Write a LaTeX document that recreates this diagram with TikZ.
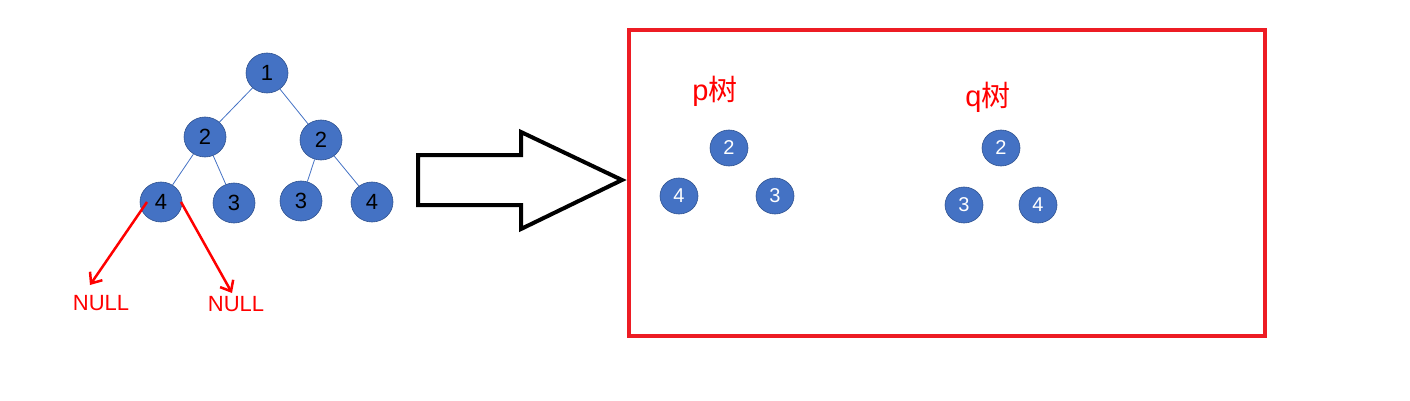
\documentclass[tikz,border=0pt]{standalone}
\usepackage{fontspec}
\setmainfont{Liberation Sans}
\newfontfamily\cjk{Noto Sans CJK SC}
\usetikzlibrary{arrows.meta,shapes.geometric}
\definecolor{nodeblue}{RGB}{68,114,196}
\definecolor{nodeedge}{RGB}{47,82,143}
\definecolor{boxred}{RGB}{237,28,36}

\begin{document}
\begin{tikzpicture}[x=1pt,y=-1pt,
    bignode/.style={ellipse,fill=nodeblue,draw=nodeedge,line width=0.6pt,minimum width=42pt,minimum height=40pt,inner sep=0pt,font=\fontsize{22}{24}\selectfont,text=black},
    smallnode/.style={ellipse,fill=nodeblue,draw=nodeedge,line width=0.6pt,minimum width=38pt,minimum height=36pt,inner sep=0pt,font=\fontsize{20}{22}\selectfont,text=white},
    treeedge/.style={nodeblue,line width=0.8pt},
    nullarrow/.style={red,line width=2.5pt,-{Straight Barb[length=9pt,width=15pt,line width=2.5pt]}},
    redlabel/.style={text=red,inner sep=0pt}]
      \useasboundingbox (0,0) rectangle (1410,401);
      % original tree
      \node[bignode] (r1) at (267,73) {1};
      \node[bignode] (a2) at (205,137) {2};
      \node[bignode] (b2) at (321,140) {2};
      \node[bignode] (a4) at (161,202) {4};
      \node[bignode] (a3) at (234,203) {3};
      \node[bignode] (b3) at (301,201) {3};
      \node[bignode] (b4) at (372,202) {4};
      \draw[treeedge] (r1) -- (a2);
      \draw[treeedge] (r1) -- (b2);
      \draw[treeedge] (a2) -- (a4);
      \draw[treeedge] (a2) -- (a3);
      \draw[treeedge] (b2) -- (b3);
      \draw[treeedge] (b2) -- (b4);
      \node[redlabel,font=\fontsize{22}{24}\selectfont] (nullL) at (101,303) {NULL};
      \node[redlabel,font=\fontsize{22}{24}\selectfont] (nullR) at (236,304) {NULL};
      \draw[nullarrow] ([xshift=-14pt]a4.center) -- (90,285);
      \draw[nullarrow] ([xshift=20pt]a4.center) -- (232,293);
      % block arrow
      \draw[black,line width=4pt,line join=miter] (418,155) -- (521,155) -- (521,132) -- (622,180) -- (521,229) -- (521,205) -- (418,205) -- cycle;
      % subtrees box
      \draw[boxred,line width=4pt] (629,30) rectangle (1265,336);
      \node[redlabel,font=\fontsize{29}{31}\selectfont] (plab) at (715,91) {p{\cjk 树}};
      \node[redlabel,font=\fontsize{29}{31}\selectfont] (qlab) at (988,97) {q{\cjk 树}};
      \node[smallnode] (p2) at (729,148) {2};
      \node[smallnode] (p4) at (679,196) {4};
      \node[smallnode] (p3) at (775,196) {3};
      \node[smallnode] (q2) at (1001,148) {2};
      \node[smallnode] (q3) at (964,205) {3};
      \node[smallnode] (q4) at (1038,205) {4};
    \end{tikzpicture}
\end{document}
